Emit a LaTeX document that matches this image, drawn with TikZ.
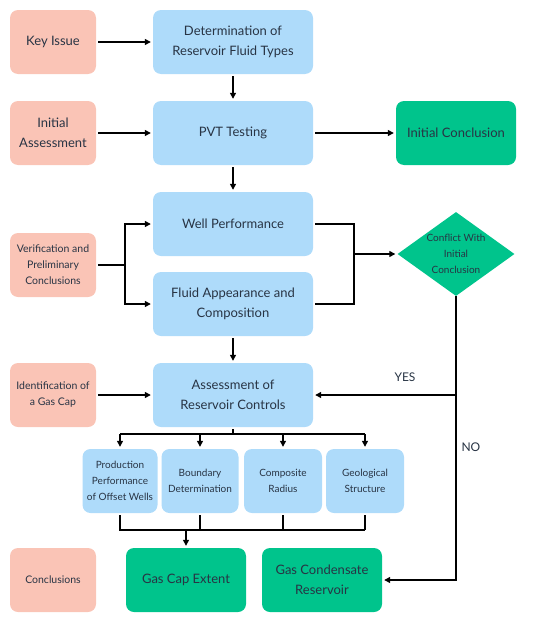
\documentclass[tikz,border=0pt]{standalone}
\usepackage{fontspec}
\setmainfont{Lato}
\usetikzlibrary{shapes.geometric,arrows.meta}
\definecolor{pinkc}{RGB}{250,196,182}
\definecolor{bluec}{RGB}{174,219,250}
\definecolor{greenc}{RGB}{0,196,140}
\definecolor{txtc}{RGB}{40,52,68}
\begin{document}
\begin{tikzpicture}[x=1pt,y=-1pt,
  box/.style={rounded corners=8pt, align=center, text=txtc, inner sep=2pt, minimum height=64pt},
  pinkbox/.style={box, fill=pinkc, minimum width=86pt},
  bluebox/.style={box, fill=bluec, minimum width=160pt, font=\fontsize{13}{20}\selectfont},
  smallbox/.style={box, fill=bluec, font=\fontsize{10}{16}\selectfont},
  greenbox/.style={box, fill=greenc, minimum width=120pt, font=\fontsize{13}{20}\selectfont},
  bigt/.style={font=\fontsize{13}{20}\selectfont},
  smallt/.style={font=\fontsize{10.5}{16}\selectfont},
  arr/.style={-{Triangle[length=6pt,width=6pt]}, line width=1.3pt, shorten >=2pt, shorten <=2pt},
  ln/.style={line width=1.3pt},
  lab/.style={text=txtc, font=\fontsize{12}{14}\selectfont}
]
\useasboundingbox (0,0) rectangle (550,621);
% left column
\node[pinkbox,bigt] (ki) at (53,42) {Key Issue};
\node[pinkbox,bigt] (ia) at (53,133) {Initial\\Assessment};
\node[pinkbox,smallt] (vp) at (53,265) {Verification and\\Preliminary\\Conclusions};
\node[pinkbox,smallt] (ig) at (53,395) {Identification of\\a Gas Cap};
\node[pinkbox,smallt] (cc) at (53,580) {Conclusions};
% main column
\node[bluebox] (det) at (233,42) {Determination of\\Reservoir Fluid Types};
\node[bluebox] (pvt) at (233,133) {PVT Testing};
\node[bluebox] (wp) at (233,224) {Well Performance};
\node[bluebox] (fa) at (233,304) {Fluid Appearance and\\Composition};
\node[bluebox] (arc) at (233,395) {Assessment of\\Reservoir Controls};
\node[greenbox] (ic) at (456,133) {Initial Conclusion};
\node[diamond, fill=greenc, minimum width=117pt, minimum height=84pt, inner sep=0pt] (dia) at (456,254) {};
\node[text=txtc, align=center, font=\fontsize{10}{16}\selectfont] (diat) at (dia) {Conflict With\\Initial\\Conclusion};
% small boxes
\node[smallbox, minimum width=75pt] (pp) at (120,481) {Production\\Performance\\of Offset Wells};
\node[smallbox, minimum width=77pt] (bd) at (200,481) {Boundary\\Determination};
\node[smallbox, minimum width=78pt] (cr) at (283,481) {Composite\\Radius};
\node[smallbox, minimum width=78pt] (gs) at (365,481) {Geological\\Structure};
% conclusions
\node[greenbox] (gce) at (186,580) {Gas Cap Extent};
\node[greenbox] (gcr) at (322,580) {Gas Condensate\\Reservoir};
% connectors
\draw[arr] (ki) -- (det);
\draw[arr] (det) -- (pvt);
\draw[arr] (ia) -- (pvt);
\draw[arr] (pvt) -- (ic);
\draw[arr] (pvt) -- (wp);
\coordinate (vj) at (125,265);
\draw[ln, shorten <=2pt] (vp.east) -- (vj);
\draw[arr, shorten <=0pt] (vj) |- (wp.west);
\draw[arr, shorten <=0pt] (vj) |- (fa.west);
\coordinate (rj) at (354,254);
\draw[ln, shorten <=2pt] (wp.east) -| (rj);
\draw[ln, shorten >=2pt] (rj) |- (fa.east);
\draw[arr, shorten <=0pt] (rj) -- (dia.west);
\draw[arr] (fa) -- (arc);
\draw[arr] (ig) -- (arc);
\draw[arr, shorten <=0pt] (dia.south) |- (gcr.east);
\draw[arr, shorten <=0pt] (dia.south |- arc.east) -- (arc.east);
\node[lab] (yes) at (405,377) {YES};
\node[lab, anchor=west] (no) at (458,447) {NO};
% branch
\coordinate (bj) at (233,434);
\draw[ln, shorten <=2pt] (arc.south) -- (bj);
\draw[ln] (pp.north |- bj) -- (gs.north |- bj);
\foreach \n in {pp,bd,cr,gs} \draw[arr, shorten <=0pt] (\n.north |- bj) -- (\n.north);
% merge
\coordinate (mj) at (233,530);
\draw[ln, shorten <=2pt] (pp.south) -- (pp.south |- mj) -- (gs.south |- mj);
\draw[ln, shorten <=2pt] (gs.south) -- (gs.south |- mj);
\draw[ln, shorten <=2pt] (bd.south) -- (bd.south |- mj);
\draw[ln, shorten <=2pt] (cr.south) -- (cr.south |- mj);
\draw[arr, shorten <=0pt] (gce.north |- mj) -- (gce.north);
\end{tikzpicture}
\end{document}
